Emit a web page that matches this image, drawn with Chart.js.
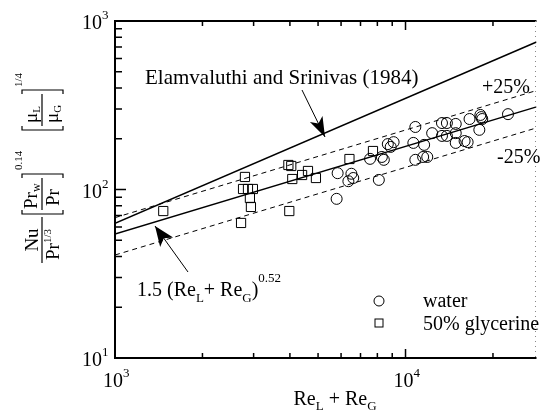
<!DOCTYPE html>
<html>
<head>
<meta charset="utf-8">
<script src="https://cdn.jsdelivr.net/npm/chart.js@4.4.0/dist/chart.umd.min.js"></script>
<style>
  body { margin: 0; background: #fff; }
  canvas { display: block; }
</style>
</head>
<body>
<canvas id="chart" width="544" height="419"></canvas>
<script>
// water runs (Re_L + Re_G, corrected Nusselt group)
const waterRe = [5839, 6512, 6358, 6607, 5793, 8094, 7551, 8290, 8421, 8690, 8892, 9100,
  10640, 11590, 10810, 12350, 13350, 13880, 13350, 13880, 14890, 14890, 14890, 15970,
  16360, 16610, 18100, 18240, 18370, 17950, 22530, 10810, 11500, 11880];
const waterNu = [125, 124, 112, 117, 88, 114, 152, 156, 150, 186, 179, 191,
  189, 184, 235, 216, 248, 248, 208, 208, 245, 216, 189, 194,
  191, 262, 277, 269, 262, 226, 280, 150, 156, 156];

// 50% glycerine runs
const glyRe = [1466, 2801, 2759, 2869, 2983, 2913, 2937, 2716, 3981, 3952, 4043, 4076,
  4406, 4616, 4916, 6412, 7727];
const glyNu = [74.5, 118.7, 100.7, 100.7, 100.7, 89.0, 78.8, 63.3, 74.5, 139.8, 137.9, 115.4,
  121.9, 128.8, 117.0, 151.7, 169.2];

// correlation lines over the plotted range
const lineRe = [1000, 28240];
const fitCoef = 1.5;
const fitExp = 0.52;
const bandFactors = [1.25, 0.75];
const elamNu = [63, 750];

// axis decades and minor ticks
const xDecades = [1000, 10000];
const xDecadeExp = ['3', '4'];
const xMinor = [2000, 3000, 4000, 5000, 6000, 7000, 8000, 9000, 20000];
const yDecades = [10, 100, 1000];
const yDecadeExp = ['1', '2', '3'];
const yMinor = [20, 30, 40, 50, 60, 70, 80, 90, 200, 300, 400, 500, 600, 700, 800, 900];

const serif = '"Liberation Serif", "Times New Roman", serif';
const font = (size, bold) => (bold ? 'bold ' : '') + size + 'px ' + serif;

const fit = lineRe.map(x => fitCoef * Math.pow(x, fitExp));

// text runs: [text, size, dy]
function runsWidth(ctx, parts) {
  let w = 0;
  for (const [t, size] of parts) { ctx.font = font(size); w += ctx.measureText(t).width; }
  return w;
}
function runs(ctx, x, y, parts) {
  for (const [t, size, dy] of parts) {
    ctx.font = font(size);
    ctx.fillText(t, x, y + (dy || 0));
    x += ctx.measureText(t).width;
  }
  return x;
}

function arrow(ctx, x0, y0, x1, y1, len, half) {
  ctx.lineWidth = 1;
  ctx.beginPath(); ctx.moveTo(x0, y0); ctx.lineTo(x1, y1); ctx.stroke();
  const a = Math.atan2(y1 - y0, x1 - x0);
  const c = Math.cos(a), s = Math.sin(a);
  ctx.beginPath();
  ctx.moveTo(x1, y1);
  ctx.lineTo(x1 - len * c + half * s, y1 - len * s - half * c);
  ctx.lineTo(x1 - len * 0.75 * c, y1 - len * 0.75 * s);
  ctx.lineTo(x1 - len * c - half * s, y1 - len * s + half * c);
  ctx.closePath();
  ctx.fill();
}

// bracket drawn along v at position u, serifs toward dir
function bracket(ctx, u, dir) {
  ctx.beginPath();
  ctx.moveTo(u + dir * 4, -20); ctx.lineTo(u, -20); ctx.lineTo(u, 21); ctx.lineTo(u + dir * 4, 21);
  ctx.stroke();
}

const decor = {
  id: 'decor',
  afterDraw(chart) {
    const ctx = chart.ctx;
    const xs = chart.scales.x, ys = chart.scales.y;
    const { left, right, top, bottom } = chart.chartArea;
    ctx.save();
    ctx.fillStyle = '#000';
    ctx.strokeStyle = '#000';

    // frame
    ctx.lineWidth = 2;
    ctx.beginPath();
    ctx.moveTo(right, top); ctx.lineTo(left, top); ctx.lineTo(left, bottom); ctx.lineTo(right, bottom);
    ctx.stroke();
    ctx.save();
    ctx.strokeStyle = '#888';
    ctx.lineWidth = 1;
    ctx.setLineDash([1, 4]);
    ctx.beginPath(); ctx.moveTo(right - 1, top); ctx.lineTo(right - 1, bottom); ctx.stroke();
    ctx.restore();

    // inward ticks
    ctx.lineWidth = 1.5;
    ctx.beginPath();
    for (const v of yMinor) {
      const p = ys.getPixelForValue(v);
      ctx.moveTo(left, p); ctx.lineTo(left + 7, p);
    }
    for (const v of yDecades) {
      const p = ys.getPixelForValue(v);
      ctx.moveTo(left, p); ctx.lineTo(left + 11, p);
    }
    for (const v of xMinor) {
      const p = xs.getPixelForValue(v);
      ctx.moveTo(p, bottom); ctx.lineTo(p, bottom - 5);
      ctx.moveTo(p, top); ctx.lineTo(p, top + 5);
    }
    for (const v of xDecades) {
      const p = xs.getPixelForValue(v);
      ctx.moveTo(p, bottom); ctx.lineTo(p, bottom - 9);
      ctx.moveTo(p, top); ctx.lineTo(p, top + 9);
    }
    ctx.stroke();

    // decade labels
    ctx.textBaseline = 'alphabetic';
    yDecades.forEach((v, i) => {
      const p = ys.getPixelForValue(v);
      const parts = [['10', 20, 0], [yDecadeExp[i], 13, -10]];
      runs(ctx, left - 33, p + 8, parts);
    });
    xDecades.forEach((v, i) => {
      const p = xs.getPixelForValue(v);
      const parts = [['10', 20, 0], [xDecadeExp[i], 13, -10]];
      runs(ctx, p - 12, bottom + 29, parts);
    });

    // x title
    const xt = [['Re', 20, 0], ['L', 13, 5], [' + Re', 20, 0], ['G', 13, 5]];
    runs(ctx, 335 - runsWidth(ctx, xt) / 2, 405, xt);

    // y title, rotated
    ctx.save();
    ctx.translate(42, 265);
    ctx.rotate(-Math.PI / 2);
    ctx.lineWidth = 1.2;
    // Nu / Pr^(1/3)
    ctx.beginPath(); ctx.moveTo(2, 0); ctx.lineTo(48, 0); ctx.stroke();
    ctx.font = font(19);
    ctx.textAlign = 'center';
    ctx.fillText('Nu', 25, -4);
    ctx.textAlign = 'left';
    runs(ctx, 5, 17, [['Pr', 19, 0], ['1/3', 11, -8]]);
    // [Pr_w / Pr]^0.14
    bracket(ctx, 51, 1);
    bracket(ctx, 91, -1);
    ctx.beginPath(); ctx.moveTo(55, 0); ctx.lineTo(87, 0); ctx.stroke();
    runs(ctx, 56, -5, [['Pr', 19, 0], ['w', 12, 3]]);
    runs(ctx, 59, 17, [['Pr', 19, 0]]);
    runs(ctx, 95, -20, [['0.14', 11, 0]]);
    // [mu_L / mu_G]^1/4
    bracket(ctx, 135, 1);
    bracket(ctx, 175, -1);
    ctx.beginPath(); ctx.moveTo(139, 0); ctx.lineTo(171, 0); ctx.stroke();
    runs(ctx, 142, -5, [['\u03bc', 19, 0], ['L', 11, 3]]);
    runs(ctx, 142, 16, [['\u03bc', 19, 0], ['G', 11, 3]]);
    runs(ctx, 178, -20, [['1/4', 11, 0]]);
    ctx.restore();

    // annotations
    runs(ctx, 145, 84, [['Elamvaluthi and Srinivas (1984)', 21, 0]]);
    arrow(ctx, 302, 90, 325, 137, 20, 7);
    runs(ctx, 482, 93, [['+25%', 20, 0]]);
    runs(ctx, 497, 163, [['-25%', 20, 0]]);
    runs(ctx, 137, 296, [['1.5 (Re', 20, 0], ['L', 13, 6], ['+ Re', 20, 0], ['G', 13, 6], [')', 20, 0], ['0.52', 13, -14]]);
    arrow(ctx, 188, 272, 155, 226, 20, 8);

    // legend
    ctx.lineWidth = 1;
    ctx.beginPath(); ctx.arc(379, 301, 5, 0, Math.PI * 2); ctx.stroke();
    ctx.strokeRect(375, 319, 8, 8);
    runs(ctx, 423, 307, [['water', 20, 0]]);
    runs(ctx, 423, 330, [['50% glycerine', 20, 0]]);

    ctx.restore();
  }
};

const pts = (xs, ys) => xs.map((x, i) => ({ x, y: ys[i] }));
const lineSet = (ys, dash, width) => ({
  data: pts(lineRe, ys),
  showLine: true,
  borderColor: '#000',
  borderWidth: width,
  borderDash: dash,
  pointRadius: 0,
  fill: false
});

new Chart(document.getElementById('chart'), {
  type: 'scatter',
  data: {
    datasets: [
      lineSet(elamNu, [], 1.5),
      lineSet(fit, [], 1.5),
      lineSet(fit.map(v => v * bandFactors[0]), [5, 4], 1),
      lineSet(fit.map(v => v * bandFactors[1]), [5, 4], 1),
      {
        label: 'water',
        data: pts(waterRe, waterNu),
        pointStyle: 'circle',
        pointRadius: 5.5,
        borderColor: '#000',
        backgroundColor: 'rgba(0,0,0,0)',
        borderWidth: 1
      },
      {
        label: '50% glycerine',
        data: pts(glyRe, glyNu),
        pointStyle: 'rect',
        pointRadius: 6.5,
        borderColor: '#000',
        backgroundColor: 'rgba(0,0,0,0)',
        borderWidth: 1
      }
    ]
  },
  options: {
    responsive: false,
    animation: false,
    layout: { padding: { left: 115, right: 1, top: 21, bottom: 61 } },
    plugins: { legend: { display: false }, tooltip: { enabled: false } },
    scales: {
      x: { type: 'logarithmic', min: 1000, max: 28240, display: false },
      y: { type: 'logarithmic', min: 10, max: 1000, display: false }
    }
  },
  plugins: [decor]
});
</script>
</body>
</html>
